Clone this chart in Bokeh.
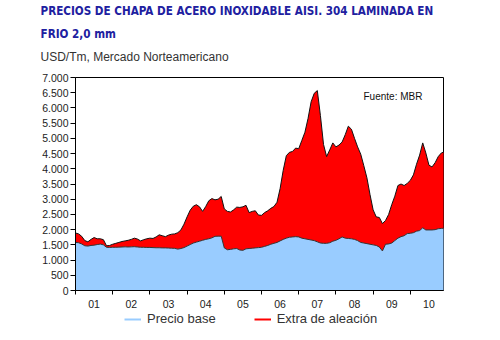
from bokeh.plotting import figure
from bokeh.layouts import column
from bokeh.models import FixedTicker, Label, Legend, LegendItem, Range1d, Title
from bokeh.embed import file_html
from bokeh.resources import INLINE

# ---- data (monthly, Jan 2001 .. Dec 2010), USD/Tm ----
years = ["01", "02", "03", "04", "05", "06", "07", "08", "09", "10"]
precio_base = [
    1580, 1570, 1530, 1470, 1460, 1480, 1490, 1510, 1525, 1500, 1420, 1415,   # 2001
    1420, 1420, 1425, 1430, 1435, 1430, 1435, 1440, 1430, 1420, 1420, 1415,   # 2002
    1415, 1410, 1405, 1405, 1400, 1400, 1395, 1390, 1385, 1360, 1380, 1410,   # 2003
    1460, 1510, 1560, 1590, 1620, 1650, 1680, 1700, 1730, 1780, 1785, 1785,   # 2004
    1400, 1340, 1350, 1370, 1380, 1330, 1320, 1370, 1380, 1390, 1400, 1410,   # 2005
    1420, 1450, 1480, 1520, 1550, 1580, 1630, 1680, 1720, 1750, 1760, 1770,   # 2006
    1760, 1720, 1700, 1680, 1660, 1640, 1600, 1560, 1550, 1550, 1570, 1620,   # 2007
    1650, 1700, 1760, 1720, 1710, 1700, 1680, 1640, 1580, 1560, 1540, 1520,   # 2008
    1500, 1480, 1430, 1300, 1520, 1530, 1560, 1640, 1720, 1770, 1800, 1870,   # 2009
    1880, 1900, 1950, 1970, 2060, 1990, 1990, 1990, 2000, 2030, 2040, 2050,   # 2010
]
precio_total = [
    1890, 1860, 1780, 1640, 1600, 1680, 1740, 1700, 1700, 1670, 1470, 1480,
    1520, 1550, 1580, 1610, 1630, 1650, 1680, 1720, 1690, 1630, 1670, 1700,
    1720, 1710, 1760, 1830, 1800, 1770, 1820, 1850, 1860, 1900, 1990, 2180,
    2420, 2640, 2770, 2820, 2750, 2600, 2760, 2950, 3020, 2980, 3000, 3090,
    2680, 2600, 2580, 2650, 2740, 2730, 2750, 2800, 2560, 2600, 2620, 2480,
    2470, 2560, 2620, 2700, 2760, 2900, 3350, 3950, 4430, 4540, 4570, 4680,
    4660, 4930, 5200, 5650, 6200, 6480, 6570, 5750, 4800, 4400, 4620, 4850,
    4720, 4780, 4880, 5120, 5400, 5300, 5000, 4720, 4480, 4100, 3700, 3150,
    2650, 2420, 2400, 2200, 2300, 2500, 2820, 3100, 3450, 3500, 3450, 3520,
    3620, 3800, 4150, 4450, 4850, 4520, 4120, 4060, 4200, 4400, 4520, 4560,
]
extra_aleacion = [t - b for t, b in zip(precio_total, precio_base)]
months = list(range(len(precio_base)))
y_ticks = list(range(0, 7001, 500))

title_lines = ["PRECIOS DE CHAPA DE ACERO INOXIDABLE AISI. 304 LAMINADA EN", "FRIO 2,0 mm"]
subtitle = "USD/Tm, Mercado Norteamericano"
source = "Fuente: MBR"
legend_labels = ["Precio base", "Extra de aleación"]

BLUE = "#99ccff"
RED = "#ff0000"
TITLE_BLUE = "#2020a0"

W, H = 500, 340
LEG_H = 28
MAIN_H = H - LEG_H
FL, FR, FT, FB = 75, 443, 77, 290   # frame edges px
XMAX, YMAX = 118.7, 7000

p = figure(width=W, height=MAIN_H, output_backend="svg", toolbar_location=None,
           x_range=Range1d(0, XMAX), y_range=Range1d(0, YMAX),
           min_border_left=FL, min_border_right=W - FR,
           min_border_top=FT, min_border_bottom=MAIN_H - FB)
p.background_fill_color = "white"
p.border_fill_color = "white"
p.outline_line_color = "black"
p.outline_line_width = 1
p.xgrid.visible = False
p.ygrid.visible = False

stack_top = [b + e for b, e in zip(precio_base, extra_aleacion)]
p.varea(x=months, y1=[0] * len(months), y2=precio_base, fill_color=BLUE)
p.varea(x=months, y1=precio_base, y2=stack_top, fill_color=RED)
p.line(months, stack_top, line_color="#111111", line_width=1)
p.line(months, precio_base, line_color="#333333", line_width=1)

ya = p.yaxis[0]
ya.ticker = FixedTicker(ticks=y_ticks)
ya.major_label_overrides = {tk: f"{tk:,}".replace(",", ".") for tk in y_ticks}
ya.major_tick_out = 5
ya.major_tick_in = 0
ya.minor_tick_out = 0
ya.minor_tick_in = 0
ya.major_label_standoff = 2
ya.major_label_text_font = "Liberation Sans"
ya.major_label_text_font_size = "10.5px"
ya.major_label_text_color = "#222222"
ya.axis_line_color = "black"
ya.major_tick_line_color = "black"

xa = p.xaxis[0]
centers = [12 * i + 6 for i in range(len(years))]
xa.ticker = FixedTicker(ticks=centers, minor_ticks=[12 * i for i in range(len(years) + 1)])
xa.major_label_overrides = {c: y for c, y in zip(centers, years)}
xa.major_tick_out = 0
xa.major_tick_in = 0
xa.minor_tick_out = 4
xa.minor_tick_in = 0
xa.minor_tick_line_color = "black"
xa.major_label_standoff = 5
xa.major_label_text_font = "Liberation Sans"
xa.major_label_text_font_size = "10.5px"
xa.major_label_text_color = "#222222"
xa.axis_line_color = "black"

# titles (side panels, not clipped); first added sits nearest the frame
p.add_layout(Title(text=" ", align="left", standoff=11, text_font_size="1px"), "above")  # spacer
p.add_layout(Title(text=subtitle, align="left", offset=40 - FL, standoff=0,
                   text_font="Liberation Sans", text_font_size="12px",
                   text_font_style="normal", text_color="#333333"), "above")
p.add_layout(Title(text=title_lines[1], align="left", offset=40 - FL, standoff=14,
                   text_font="DejaVu Sans Condensed", text_font_style="bold",
                   text_font_size="11.6px", text_color=TITLE_BLUE), "above")
p.add_layout(Title(text=title_lines[0], align="left", offset=40 - FL, standoff=0,
                   text_font="DejaVu Sans Condensed", text_font_style="bold",
                   text_font_size="11.6px", text_color=TITLE_BLUE), "above")

src_x = (363 - FL) / (FR - FL) * XMAX
src_y = (FB - 96) / (FB - FT) * YMAX
p.add_layout(Label(x=src_x, y=src_y, text=source,
                   text_font="Liberation Sans", text_font_size="10px",
                   text_color="#111111", text_baseline="alphabetic"))

# ---- legend strip below the chart ----
lg = figure(width=W, height=LEG_H, output_backend="svg", toolbar_location=None,
            x_range=Range1d(FL, FR), y_range=Range1d(LEG_H, 0),
            x_axis_type=None, y_axis_type=None,
            min_border_left=FL, min_border_right=W - FR, min_border_top=0, min_border_bottom=0)
lg.outline_line_color = None
lg.xgrid.visible = False
lg.ygrid.visible = False
r_base = lg.line([FL], [0], line_color=BLUE, line_width=2)
r_extra = lg.line([FL], [0], line_color=RED, line_width=2)
legend = Legend(items=[LegendItem(label=legend_labels[0], renderers=[r_base]),
                       LegendItem(label=legend_labels[1], renderers=[r_extra])],
                orientation="horizontal", location=(124 - FL, LEG_H - 14),
                padding=0, margin=0, spacing=38, glyph_width=17, glyph_height=14,
                label_height=14, label_standoff=6,
                label_text_font="Liberation Sans", label_text_font_size="13px",
                label_text_color="#333333", border_line_color=None,
                background_fill_alpha=0)
lg.add_layout(legend, "center")

layout = column(p, lg, spacing=0)
open("out.html", "w").write(file_html(layout, INLINE))
